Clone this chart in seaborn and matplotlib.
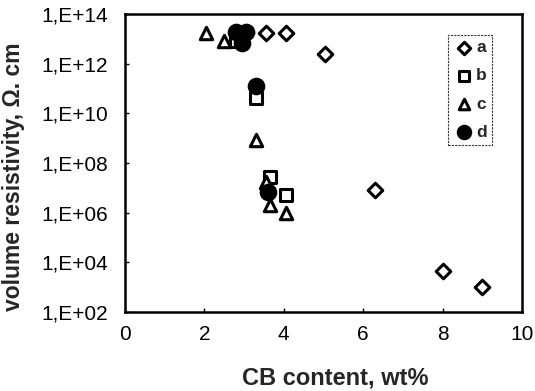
import matplotlib
matplotlib.use("Agg")
import matplotlib.pyplot as plt
import seaborn as sns
import pandas as pd
import numpy as np

# data
a_x = [3.05, 3.55, 4.05, 5.05, 6.3, 8.0, 9.0]
a_y = [1.7e13, 1.7e13, 1.7e13, 2.4e12, 8e6, 4.4e3, 1e3]
b_x = [2.8, 3.3, 3.65, 4.05]
b_y = [8e12, 4e10, 2.7e7, 5e6]
c_x = [2.05, 2.5, 3.3, 3.55, 3.65, 4.05]
c_y = [1.7e13, 8e12, 8.3e8, 1.7e7, 2e6, 9.5e5]
d_x = [2.8, 3.05, 2.95, 3.3, 3.6]
d_y = [1.9e13, 1.8e13, 6.8e12, 1.26e11, 6.6e6]

y_ticks = [1e2, 1e4, 1e6, 1e8, 1e10, 1e12, 1e14]
y_tick_labels = ["1,E+02", "1,E+04", "1,E+06", "1,E+08", "1,E+10", "1,E+12", "1,E+14"]
x_ticks = [0, 2, 4, 6, 8, 10]

sns.set_style("ticks")
plt.rcParams['font.family'] = ['Liberation Sans', 'DejaVu Sans']

fig = plt.figure(figsize=(5.35, 3.91), dpi=100)
ax = fig.add_axes([125/535, 1-312/391, (522-125)/535, (312-14)/391])

series = [
    ("a", a_x, a_y, "D", "white", 55),
    ("b", b_x, b_y, "s", "white", 85),
    ("c", c_x, c_y, "^", "white", 80),
    ("d", d_x, d_y, "o", "black", 110),
]
for name, xs, ys, m, fc, s in series:
    df = pd.DataFrame({"x": xs, "y": ys})
    sns.scatterplot(data=df, x="x", y="y", marker=m, s=s, facecolor=fc,
                    edgecolor="black", linewidth=2.2, ax=ax, label=name, zorder=3)

ax.set_yscale("log")
ax.set_ylim(1e2, 1e14)
ax.set_xlim(0, 10)
ax.yaxis.set_major_locator(matplotlib.ticker.FixedLocator(y_ticks))
ax.yaxis.set_minor_locator(matplotlib.ticker.NullLocator())
ax.set_yticklabels(y_tick_labels)
ax.set_xticks(x_ticks)
ax.tick_params(axis="both", labelsize=15, direction="in", length=3, width=1, colors="black")
ax.tick_params(axis="y", pad=12)
ax.tick_params(axis="x", pad=9)
for sp in ax.spines.values():
    sp.set_linewidth(1.8)
    sp.set_color("black")

ax.set_xlabel("CB content, wt%", fontsize=17, fontweight="bold")
ax.set_ylabel("volume resistivity, Ω. cm", fontsize=16.5, fontweight="bold")
ax.xaxis.set_label_coords(0.529, -0.182)
ax.yaxis.set_label_coords(-0.252, 0.455)

leg = ax.legend(loc="upper right", bbox_to_anchor=(0.925, 0.93), frameon=True,
                fontsize=12.5, handletextpad=0.1, handlelength=1.2, borderpad=0.3,
                labelspacing=0.75, fancybox=False, borderaxespad=0, markerscale=0.85)
leg.get_frame().set_edgecolor("black")
leg.get_frame().set_linewidth(0.8)
leg.get_frame().set_linestyle((0, (2, 1)))
for t in leg.get_texts():
    t.set_fontweight("bold")

fig.savefig("out.png", dpi=100)
